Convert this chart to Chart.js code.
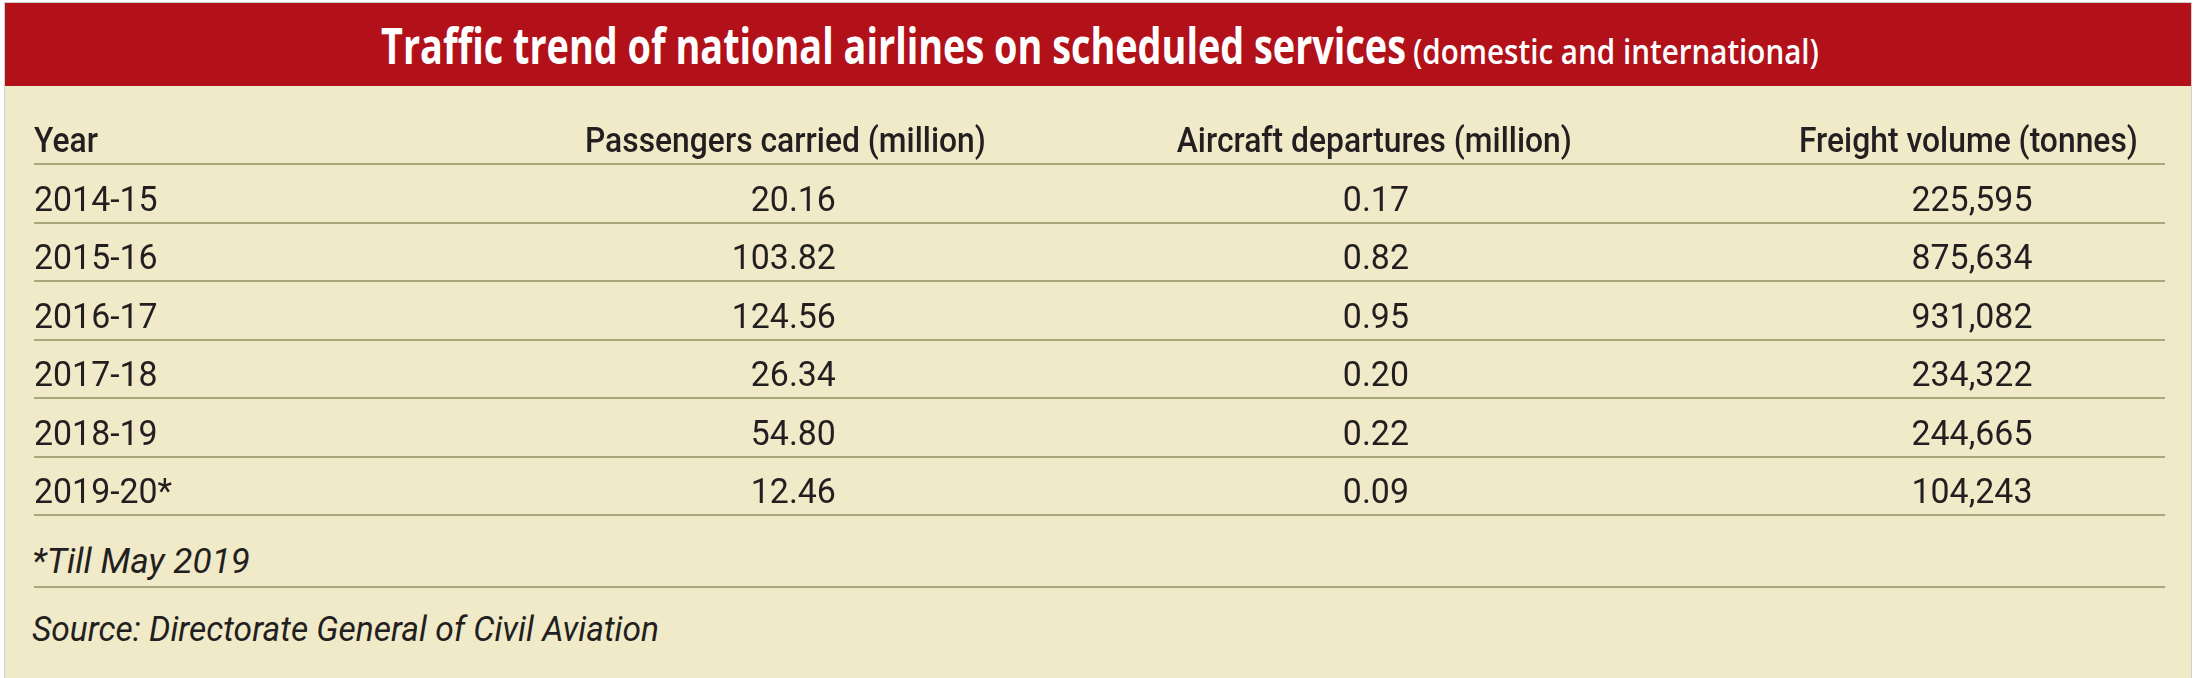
<!DOCTYPE html>
<html>
<head>
<meta charset="utf-8">
<title>Traffic trend of national airlines on scheduled services</title>
<script src="https://cdn.jsdelivr.net/npm/chart.js@4.4.1/dist/chart.umd.min.js"></script>
<style>
  html, body { margin: 0; padding: 0; background: #fff; }
  body { position: relative; width: 2198px; height: 678px; overflow: hidden; }
  #frame { position: absolute; left: 5px; top: 3px; width: 2186px; height: 676px; background: #F0EAC9; box-shadow: 0 0 0 1px #cfcfcf; }
  #bar { position: absolute; left: 5px; top: 3px; width: 2186px; height: 83px; background: #B2111A; }
  .txt { position: absolute; white-space: nowrap; line-height: normal; transform-origin: 0 0; }
  #title { font: 700 50px "Open Sans"; color: #fff; }
  #subtitle { font: 600 34px "Open Sans"; color: #fff; }
  .note { font: italic 400 35px Roboto; color: #231F20; }
  #noteLine { position: absolute; left: 34px; top: 586px; width: 2131px; height: 2px; background: #AAA77C; }
  #wrap { position: absolute; left: 0; top: 0; width: 2198px; height: 678px; }
</style>
</head>
<body>
<div id="frame"></div>
<div id="bar"></div>
<div id="title" class="txt"></div>
<div id="subtitle" class="txt"></div>
<div id="footnote" class="txt note"></div>
<div id="noteLine"></div>
<div id="source" class="txt note"></div>
<div id="wrap"><canvas id="table" width="2198" height="678"></canvas></div>

<script>
// table data
const years = ["2014-15", "2015-16", "2016-17", "2017-18", "2018-19", "2019-20*"];
const passengers = [20.16, 103.82, 124.56, 26.34, 54.80, 12.46];
const departures = [0.17, 0.82, 0.95, 0.20, 0.22, 0.09];
const freight = [225595, 875634, 931082, 234322, 244665, 104243];
const headers = ["Year", "Passengers carried (million)", "Aircraft departures (million)", "Freight volume (tonnes)"];

const titleText = "Traffic trend of national airlines on scheduled services";
const subtitleText = "(domestic and international)";
const footnoteText = "*Till May 2019";
const sourceText = "Source: Directorate General of Civil Aviation";

const ink = "#231F20";
const ruleColor = "#AAA77C";

// column anchors on the hidden 0-100 x scale
const columns = [
  { head: 0,     cell: 0,     align: "left" },
  { head: 44.67, cell: 37.63, align: "right" },
  { head: 72.17, cell: 64.52, align: "right" },
  { head: 98.73, cell: 93.78, align: "right" }
];

const rows = [headers].concat(years.map((y, i) => [
  y,
  passengers[i].toFixed(2),
  departures[i].toFixed(2),
  freight[i].toLocaleString("en-US")
]));

// fonts are narrowed to match the condensed face of the original
const headFont = { css: "500 35px Roboto", width: 398, sample: headers[1] };
const cellFont = { css: "400 35px Roboto", width: 122, sample: years[0] };

function fitScale(ctx, f) {
  ctx.font = f.css;
  const m = ctx.measureText(f.sample);
  f.sx = f.width / (m.actualBoundingBoxLeft + m.actualBoundingBoxRight);
}

function drawSqueezed(ctx, txt, x, y, sx, align) {
  ctx.save();
  ctx.translate(x, y);
  ctx.scale(sx, 1);
  ctx.textAlign = align;
  ctx.fillText(txt, 0, 0);
  ctx.restore();
}

const tableCells = {
  id: "tableCells",
  afterDraw(chart) {
    const { ctx, scales: { x, y } } = chart;
    const band = y.getPixelForValue(1) - y.getPixelForValue(0);
    if (!headFont.sx) { fitScale(ctx, headFont); fitScale(ctx, cellFont); }
    ctx.save();
    ctx.fillStyle = ink;
    ctx.textBaseline = "alphabetic";
    rows.forEach((cells, r) => {
      const f = r === 0 ? headFont : cellFont;
      ctx.font = f.css;
      const base = y.getPixelForValue(r) + band * 0.3;
      cells.forEach((txt, c) => {
        const col = columns[c];
        const ax = x.getPixelForValue(r === 0 ? col.head : col.cell);
        drawSqueezed(ctx, txt, ax, base, f.sx, col.align);
      });
    });
    ctx.restore();
  }
};

new Chart("table", {
  type: "scatter",
  data: { datasets: [] },
  options: {
    responsive: false,
    animation: false,
    events: [],
    layout: { padding: { top: 105.5, bottom: 163, left: 34, right: 33 } },
    plugins: { legend: { display: false }, tooltip: { enabled: false } },
    scales: {
      x: { type: "linear", min: 0, max: 100, display: false },
      y: {
        type: "category",
        labels: ["Year"].concat(years),
        offset: true,
        border: { display: false },
        ticks: { display: false },
        grid: {
          offset: true,
          drawTicks: false,
          lineWidth: 2,
          color: c => c.index === 0 ? "rgba(0,0,0,0)" : ruleColor
        }
      }
    }
  },
  plugins: [tableCells]
});

// place html text by baseline, narrowed to the original width
function place(id, text, left, baseline, width) {
  const el = document.getElementById(id);
  el.textContent = text;
  const probe = document.createElement("span");
  probe.style.display = "inline-block";
  probe.style.width = "0";
  probe.style.height = "0";
  el.appendChild(probe);
  el.style.left = left + "px";
  el.style.top = "0px";
  const b = probe.offsetTop;
  el.removeChild(probe);
  el.style.top = (baseline - b) + "px";
  const w = el.getBoundingClientRect().width;
  el.style.transform = "scaleX(" + (width / w) + ")";
}

place("title", titleText, 381, 64, 1025);
place("subtitle", subtitleText, 1413, 64, 406);
place("footnote", footnoteText, 32, 573, 218);
place("source", sourceText, 32, 641, 627);
</script>
</body>
</html>
